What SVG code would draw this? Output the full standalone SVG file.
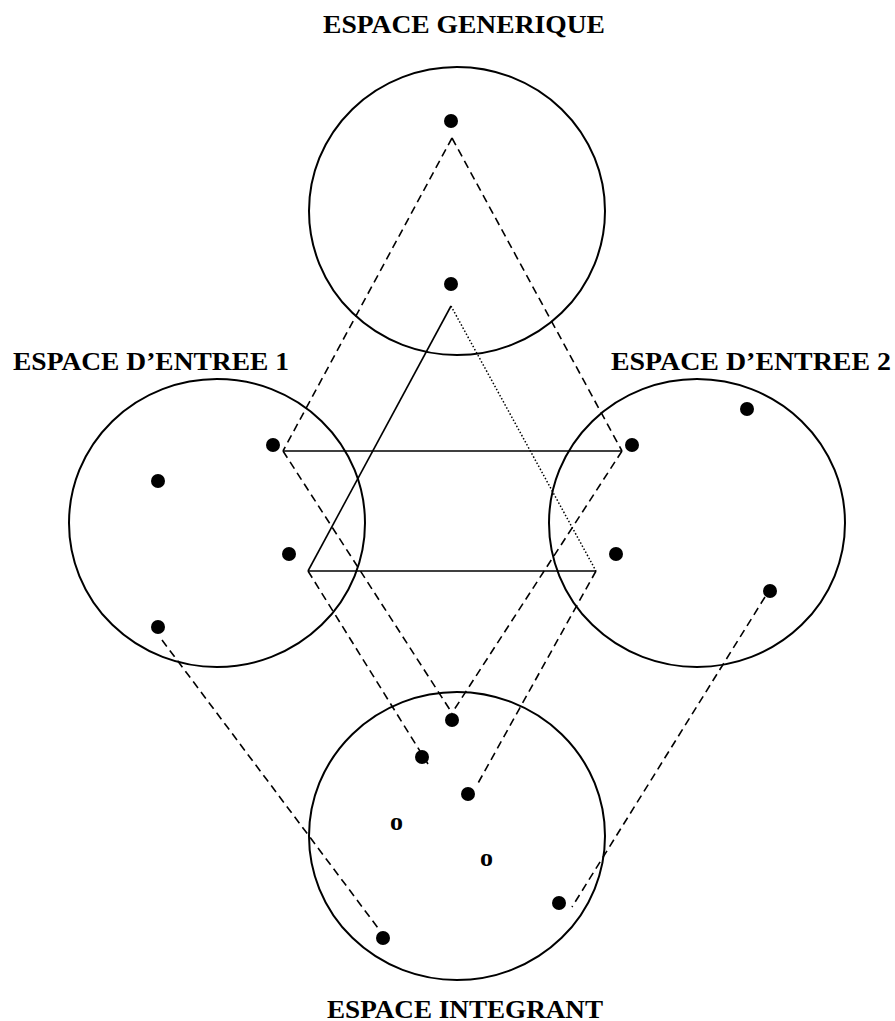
<svg xmlns="http://www.w3.org/2000/svg" width="895" height="1021" viewBox="0 0 895 1021">
<style>
.sp{fill:none;stroke:#000;stroke-width:2}
.dot{fill:#000}
.lbl{font-family:"Liberation Serif",serif;font-weight:bold;font-size:25px;fill:#000}
.o{font-family:"Liberation Serif",serif;font-weight:bold;font-size:26px;fill:#000}
.solid{stroke:#000;stroke-width:1.6;fill:none}
.dash{stroke:#000;stroke-width:1.6;fill:none;stroke-dasharray:8,5}
.dotted{stroke:#000;stroke-width:1.5;fill:none;stroke-dasharray:1.5,2}
</style>
<rect width="895" height="1021" fill="#fff"/>
<g id="generic">
<ellipse class="sp" cx="457" cy="211" rx="148" ry="144"/>
<circle class="dot" cx="451" cy="121" r="7"/>
<circle class="dot" cx="451" cy="284" r="7"/>
<text class="lbl" x="323" y="33" textLength="282" lengthAdjust="spacingAndGlyphs">ESPACE GENERIQUE</text>
</g>
<g id="input1">
<ellipse class="sp" cx="217" cy="523" rx="148" ry="144"/>
<circle class="dot" cx="273" cy="445" r="7"/>
<circle class="dot" cx="158" cy="481" r="7"/>
<circle class="dot" cx="289" cy="554" r="7"/>
<circle class="dot" cx="158" cy="627" r="7"/>
<text class="lbl" x="13" y="370" textLength="276" lengthAdjust="spacingAndGlyphs">ESPACE D’ENTREE 1</text>
</g>
<g id="input2">
<ellipse class="sp" cx="697" cy="523" rx="148" ry="144"/>
<circle class="dot" cx="747" cy="409" r="7"/>
<circle class="dot" cx="632" cy="445" r="7"/>
<circle class="dot" cx="616" cy="554" r="7"/>
<circle class="dot" cx="770" cy="591" r="7"/>
<text class="lbl" x="611" y="370" textLength="280" lengthAdjust="spacingAndGlyphs">ESPACE D’ENTREE 2</text>
</g>
<g id="blend">
<ellipse class="sp" cx="457" cy="836" rx="148" ry="144"/>
<circle class="dot" cx="452" cy="720" r="7"/>
<circle class="dot" cx="422" cy="757" r="7"/>
<circle class="dot" cx="468" cy="794" r="7"/>
<circle class="dot" cx="559" cy="903" r="7"/>
<circle class="dot" cx="383" cy="938" r="7"/>
<text class="o" x="390" y="830">o</text>
<text class="o" x="480" y="866">o</text>
<text class="lbl" x="327" y="1018" textLength="276" lengthAdjust="spacingAndGlyphs">ESPACE INTEGRANT</text>
</g>
<g id="connectors">
<line class="dash" x1="452" y1="138" x2="283" y2="451"/>
<line class="dash" x1="452" y1="138" x2="622" y2="451"/>
<line class="solid" x1="283" y1="451" x2="622" y2="451"/>
<line class="solid" x1="451" y1="306" x2="308" y2="571"/>
<line class="solid" x1="308" y1="571" x2="596" y2="571"/>
<line class="dotted" x1="451" y1="306" x2="596" y2="571"/>
<line class="dash" x1="283" y1="451" x2="452" y2="713"/>
<line class="dash" x1="622" y1="451" x2="452" y2="713"/>
<line class="dash" x1="308" y1="571" x2="428" y2="764"/>
<line class="dash" x1="596" y1="571" x2="477" y2="785"/>
<line class="dash" x1="162" y1="640" x2="378" y2="928"/>
<line class="dash" x1="765" y1="597" x2="572" y2="907"/>
</g>
</svg>
